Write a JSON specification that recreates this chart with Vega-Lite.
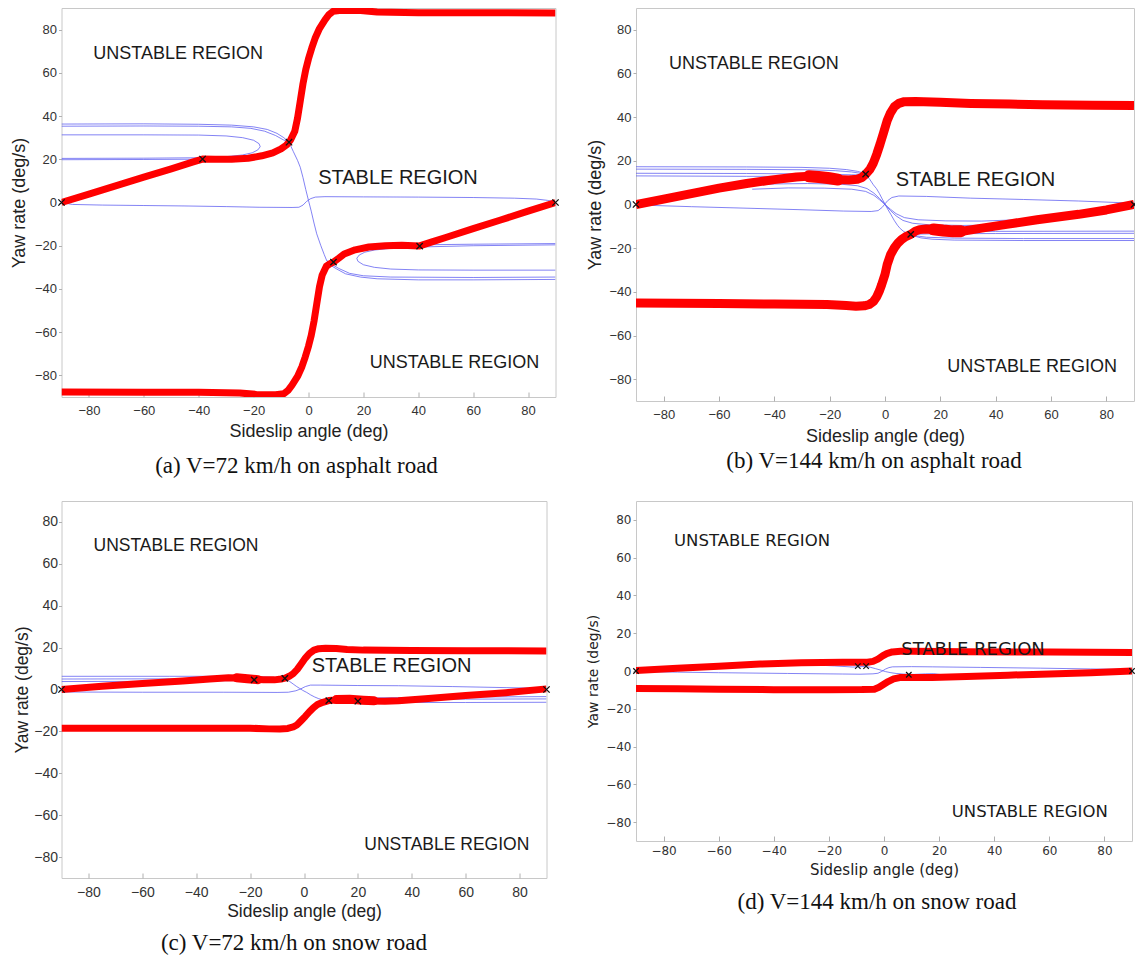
{
"$schema": "https://vega.github.io/schema/vega-lite/v6.json",
"padding": {"left": 9.5, "top": 7, "right": 0, "bottom": 0},
"background": "white",
"datasets": {
"lines": [
{"p":"a","k":"r","s":1,"x":-90,"y":0},{"p":"a","k":"r","s":1,"x":-80,"y":3.9},{"p":"a","k":"r","s":1,"x":-70,"y":7.8},{"p":"a","k":"r","s":1,"x":-60,"y":11.7},{"p":"a","k":"r","s":1,"x":-50,"y":15.6},{"p":"a","k":"r","s":1,"x":-42,"y":18.8},{"p":"a","k":"r","s":1,"x":-38.6,"y":20.1},{"p":"a","k":"r","s":1,"x":-34,"y":20},{"p":"a","k":"r","s":1,"x":-28,"y":20},{"p":"a","k":"r","s":1,"x":-22,"y":20.5},{"p":"a","k":"r","s":1,"x":-17,"y":21.6},{"p":"a","k":"r","s":1,"x":-13,"y":23},{"p":"a","k":"r","s":1,"x":-10,"y":24.8},{"p":"a","k":"r","s":1,"x":-8,"y":26.6},{"p":"a","k":"r","s":1,"x":-6.5,"y":29},{"p":"a","k":"r","s":1,"x":-5,"y":33},{"p":"a","k":"r","s":1,"x":-4,"y":39},{"p":"a","k":"r","s":1,"x":-3,"y":47},{"p":"a","k":"r","s":1,"x":-2,"y":55},{"p":"a","k":"r","s":1,"x":-1,"y":61.5},{"p":"a","k":"r","s":1,"x":0,"y":66.5},{"p":"a","k":"r","s":1,"x":1.2,"y":71.5},{"p":"a","k":"r","s":1,"x":2.4,"y":76},{"p":"a","k":"r","s":1,"x":4,"y":80.5},{"p":"a","k":"r","s":1,"x":6,"y":84.5},{"p":"a","k":"r","s":1,"x":7.5,"y":87},{"p":"a","k":"r","s":1,"x":9,"y":88.5},{"p":"a","k":"r","s":1,"x":12,"y":89},{"p":"a","k":"r","s":1,"x":19,"y":88.8},{"p":"a","k":"r","s":1,"x":25,"y":88.2},{"p":"a","k":"r","s":1,"x":40,"y":87.8},{"p":"a","k":"r","s":1,"x":60,"y":87.8},{"p":"a","k":"r","s":1,"x":90,"y":87.7},
{"p":"a","k":"r","s":2,"x":-90,"y":-87.7},{"p":"a","k":"r","s":2,"x":-60,"y":-87.8},{"p":"a","k":"r","s":2,"x":-40,"y":-87.8},{"p":"a","k":"r","s":2,"x":-25,"y":-88.2},{"p":"a","k":"r","s":2,"x":-19,"y":-88.8},{"p":"a","k":"r","s":2,"x":-12,"y":-89},{"p":"a","k":"r","s":2,"x":-9,"y":-88.5},{"p":"a","k":"r","s":2,"x":-7.5,"y":-87},{"p":"a","k":"r","s":2,"x":-6,"y":-84.5},{"p":"a","k":"r","s":2,"x":-4,"y":-80.5},{"p":"a","k":"r","s":2,"x":-2.4,"y":-76},{"p":"a","k":"r","s":2,"x":-1.2,"y":-71.5},{"p":"a","k":"r","s":2,"x":0,"y":-66.5},{"p":"a","k":"r","s":2,"x":1,"y":-61.5},{"p":"a","k":"r","s":2,"x":2,"y":-55},{"p":"a","k":"r","s":2,"x":3,"y":-47},{"p":"a","k":"r","s":2,"x":4,"y":-39},{"p":"a","k":"r","s":2,"x":5,"y":-33.5},{"p":"a","k":"r","s":2,"x":6.5,"y":-29.5},{"p":"a","k":"r","s":2,"x":8,"y":-28.2},{"p":"a","k":"r","s":2,"x":9.1,"y":-27.6},{"p":"a","k":"r","s":2,"x":11,"y":-25.8},{"p":"a","k":"r","s":2,"x":13,"y":-23.8},{"p":"a","k":"r","s":2,"x":17,"y":-21.9},{"p":"a","k":"r","s":2,"x":22,"y":-20.6},{"p":"a","k":"r","s":2,"x":28,"y":-20},{"p":"a","k":"r","s":2,"x":34,"y":-19.8},{"p":"a","k":"r","s":2,"x":40.5,"y":-20.1},{"p":"a","k":"r","s":2,"x":45,"y":-18.2},{"p":"a","k":"r","s":2,"x":50,"y":-16.2},{"p":"a","k":"r","s":2,"x":60,"y":-12.1},{"p":"a","k":"r","s":2,"x":70,"y":-8.1},{"p":"a","k":"r","s":2,"x":80,"y":-4},{"p":"a","k":"r","s":2,"x":90,"y":0},
{"p":"a","k":"b","s":1,"x":-90,"y":36.3},{"p":"a","k":"b","s":1,"x":-60,"y":36.4},{"p":"a","k":"b","s":1,"x":-40,"y":36.2},{"p":"a","k":"b","s":1,"x":-28,"y":35.8},{"p":"a","k":"b","s":1,"x":-20,"y":35},{"p":"a","k":"b","s":1,"x":-15,"y":33.8},{"p":"a","k":"b","s":1,"x":-11.5,"y":32},{"p":"a","k":"b","s":1,"x":-9,"y":30},{"p":"a","k":"b","s":1,"x":-7.1,"y":27.9},
{"p":"a","k":"b","s":2,"x":-90,"y":35.3},{"p":"a","k":"b","s":2,"x":-60,"y":35.4},{"p":"a","k":"b","s":2,"x":-40,"y":35.3},{"p":"a","k":"b","s":2,"x":-28,"y":35},{"p":"a","k":"b","s":2,"x":-21,"y":34.3},{"p":"a","k":"b","s":2,"x":-16,"y":33},{"p":"a","k":"b","s":2,"x":-12,"y":31},{"p":"a","k":"b","s":2,"x":-9.2,"y":29},{"p":"a","k":"b","s":2,"x":-7.1,"y":27.9},
{"p":"a","k":"b","s":3,"x":-7.1,"y":27.9},{"p":"a","k":"b","s":3,"x":-5.5,"y":23.5},{"p":"a","k":"b","s":3,"x":-4,"y":19.5},{"p":"a","k":"b","s":3,"x":-3,"y":16.3},{"p":"a","k":"b","s":3,"x":-2,"y":11.5},{"p":"a","k":"b","s":3,"x":-1,"y":6},{"p":"a","k":"b","s":3,"x":0,"y":0.9},{"p":"a","k":"b","s":3,"x":1,"y":-4},{"p":"a","k":"b","s":3,"x":2,"y":-9.5},{"p":"a","k":"b","s":3,"x":3,"y":-14.5},{"p":"a","k":"b","s":3,"x":4.5,"y":-20},{"p":"a","k":"b","s":3,"x":5.7,"y":-24},{"p":"a","k":"b","s":3,"x":6.6,"y":-26.8},
{"p":"a","k":"b","s":4,"x":6.6,"y":-26.8},{"p":"a","k":"b","s":4,"x":8,"y":-29},{"p":"a","k":"b","s":4,"x":10.3,"y":-30.8},{"p":"a","k":"b","s":4,"x":13.5,"y":-33},{"p":"a","k":"b","s":4,"x":18.9,"y":-34.5},{"p":"a","k":"b","s":4,"x":25,"y":-35.3},{"p":"a","k":"b","s":4,"x":40,"y":-35.8},{"p":"a","k":"b","s":4,"x":60,"y":-35.8},{"p":"a","k":"b","s":4,"x":90,"y":-35.6},
{"p":"a","k":"b","s":5,"x":6.6,"y":-26.8},{"p":"a","k":"b","s":5,"x":8.5,"y":-28.6},{"p":"a","k":"b","s":5,"x":11,"y":-30.5},{"p":"a","k":"b","s":5,"x":15,"y":-32.8},{"p":"a","k":"b","s":5,"x":20,"y":-33.9},{"p":"a","k":"b","s":5,"x":30,"y":-34.5},{"p":"a","k":"b","s":5,"x":60,"y":-34.7},{"p":"a","k":"b","s":5,"x":90,"y":-34.5},
{"p":"a","k":"b","s":6,"x":-90,"y":31.3},{"p":"a","k":"b","s":6,"x":-60,"y":31.3},{"p":"a","k":"b","s":6,"x":-40,"y":31.2},{"p":"a","k":"b","s":6,"x":-30,"y":30.8},{"p":"a","k":"b","s":6,"x":-24,"y":30},{"p":"a","k":"b","s":6,"x":-20,"y":28.8},{"p":"a","k":"b","s":6,"x":-18,"y":27.2},{"p":"a","k":"b","s":6,"x":-17.6,"y":25.8},{"p":"a","k":"b","s":6,"x":-18.5,"y":24.3},{"p":"a","k":"b","s":6,"x":-20.5,"y":23},{"p":"a","k":"b","s":6,"x":-24,"y":22},{"p":"a","k":"b","s":6,"x":-30,"y":21.2},{"p":"a","k":"b","s":6,"x":-40,"y":20.7},{"p":"a","k":"b","s":6,"x":-60,"y":20.5},{"p":"a","k":"b","s":6,"x":-90,"y":20.4},
{"p":"a","k":"b","s":7,"x":-90,"y":19.8},{"p":"a","k":"b","s":7,"x":-60,"y":19.9},{"p":"a","k":"b","s":7,"x":-45,"y":20},{"p":"a","k":"b","s":7,"x":-35,"y":20},{"p":"a","k":"b","s":7,"x":-27,"y":20.2},{"p":"a","k":"b","s":7,"x":-20,"y":20.8},{"p":"a","k":"b","s":7,"x":-15,"y":22},{"p":"a","k":"b","s":7,"x":-11,"y":24},{"p":"a","k":"b","s":7,"x":-8.5,"y":26.2},{"p":"a","k":"b","s":7,"x":-7.1,"y":27.9},
{"p":"a","k":"b","s":8,"x":90,"y":-31.3},{"p":"a","k":"b","s":8,"x":60,"y":-31.3},{"p":"a","k":"b","s":8,"x":40,"y":-31.2},{"p":"a","k":"b","s":8,"x":30,"y":-30.8},{"p":"a","k":"b","s":8,"x":24,"y":-30},{"p":"a","k":"b","s":8,"x":20,"y":-28.8},{"p":"a","k":"b","s":8,"x":18,"y":-27.2},{"p":"a","k":"b","s":8,"x":17.6,"y":-25.8},{"p":"a","k":"b","s":8,"x":18.5,"y":-24.3},{"p":"a","k":"b","s":8,"x":20.5,"y":-23},{"p":"a","k":"b","s":8,"x":24,"y":-22},{"p":"a","k":"b","s":8,"x":30,"y":-21.2},{"p":"a","k":"b","s":8,"x":40,"y":-20.6},{"p":"a","k":"b","s":8,"x":60,"y":-20},{"p":"a","k":"b","s":8,"x":90,"y":-19.6},
{"p":"a","k":"b","s":9,"x":9.1,"y":-27.6},{"p":"a","k":"b","s":9,"x":11,"y":-25.5},{"p":"a","k":"b","s":9,"x":13.5,"y":-23},{"p":"a","k":"b","s":9,"x":17,"y":-21.3},{"p":"a","k":"b","s":9,"x":22,"y":-20.4},{"p":"a","k":"b","s":9,"x":30,"y":-19.9},{"p":"a","k":"b","s":9,"x":40,"y":-19.6},{"p":"a","k":"b","s":9,"x":60,"y":-19.3},{"p":"a","k":"b","s":9,"x":90,"y":-19},
{"p":"a","k":"b","s":10,"x":-90,"y":0},{"p":"a","k":"b","s":10,"x":-86,"y":-0.9},{"p":"a","k":"b","s":10,"x":-75,"y":-1.2},{"p":"a","k":"b","s":10,"x":-60,"y":-1.4},{"p":"a","k":"b","s":10,"x":-45,"y":-1.6},{"p":"a","k":"b","s":10,"x":-30,"y":-1.9},{"p":"a","k":"b","s":10,"x":-18,"y":-2.2},{"p":"a","k":"b","s":10,"x":-6,"y":-2.3},{"p":"a","k":"b","s":10,"x":-3.5,"y":-2.2},{"p":"a","k":"b","s":10,"x":-2,"y":-1.2},{"p":"a","k":"b","s":10,"x":-0.7,"y":0.5},{"p":"a","k":"b","s":10,"x":0.8,"y":1.8},{"p":"a","k":"b","s":10,"x":2.5,"y":2.5},{"p":"a","k":"b","s":10,"x":6,"y":2.7},{"p":"a","k":"b","s":10,"x":20,"y":2.6},{"p":"a","k":"b","s":10,"x":40,"y":2.5},{"p":"a","k":"b","s":10,"x":60,"y":2.3},{"p":"a","k":"b","s":10,"x":75,"y":2},{"p":"a","k":"b","s":10,"x":83,"y":1.6},{"p":"a","k":"b","s":10,"x":87,"y":1},{"p":"a","k":"b","s":10,"x":90,"y":0.2},

{"p":"b","k":"r","s":1,"x":-90,"y":0},{"p":"b","k":"r","s":1,"x":-80,"y":2.5},{"p":"b","k":"r","s":1,"x":-70,"y":5},{"p":"b","k":"r","s":1,"x":-60,"y":7.5},{"p":"b","k":"r","s":1,"x":-50,"y":9.6},{"p":"b","k":"r","s":1,"x":-40,"y":11.4},{"p":"b","k":"r","s":1,"x":-32,"y":12.6},{"p":"b","k":"r","s":1,"x":-27,"y":13},{"p":"b","k":"r","s":1,"x":-22,"y":12.4},{"p":"b","k":"r","s":1,"x":-17,"y":11.5},{"p":"b","k":"r","s":1,"x":-13,"y":11.2},{"p":"b","k":"r","s":1,"x":-10,"y":11.6},{"p":"b","k":"r","s":1,"x":-8.3,"y":12.4},{"p":"b","k":"r","s":1,"x":-7,"y":13.9},{"p":"b","k":"r","s":1,"x":-5.5,"y":16},{"p":"b","k":"r","s":1,"x":-4.2,"y":19},{"p":"b","k":"r","s":1,"x":-3,"y":23},{"p":"b","k":"r","s":1,"x":-1.8,"y":27.6},{"p":"b","k":"r","s":1,"x":-0.5,"y":33},{"p":"b","k":"r","s":1,"x":0.8,"y":38.5},{"p":"b","k":"r","s":1,"x":2,"y":42},{"p":"b","k":"r","s":1,"x":3.4,"y":44.8},{"p":"b","k":"r","s":1,"x":5,"y":46.3},{"p":"b","k":"r","s":1,"x":7,"y":47.1},{"p":"b","k":"r","s":1,"x":11,"y":47.2},{"p":"b","k":"r","s":1,"x":20,"y":46.8},{"p":"b","k":"r","s":1,"x":31,"y":46.3},{"p":"b","k":"r","s":1,"x":45,"y":46},{"p":"b","k":"r","s":1,"x":57,"y":45.7},{"p":"b","k":"r","s":1,"x":75,"y":45.5},{"p":"b","k":"r","s":1,"x":90,"y":45.3},
{"p":"b","k":"r","s":2,"x":-90,"y":-45.1},{"p":"b","k":"r","s":2,"x":-60,"y":-45.4},{"p":"b","k":"r","s":2,"x":-40,"y":-45.6},{"p":"b","k":"r","s":2,"x":-21,"y":-45.8},{"p":"b","k":"r","s":2,"x":-14,"y":-46.3},{"p":"b","k":"r","s":2,"x":-10.5,"y":-46.6},{"p":"b","k":"r","s":2,"x":-7.5,"y":-46.4},{"p":"b","k":"r","s":2,"x":-5.7,"y":-45.8},{"p":"b","k":"r","s":2,"x":-4.2,"y":-44.5},{"p":"b","k":"r","s":2,"x":-3.1,"y":-42.5},{"p":"b","k":"r","s":2,"x":-2,"y":-39.5},{"p":"b","k":"r","s":2,"x":-1.2,"y":-36.7},{"p":"b","k":"r","s":2,"x":0,"y":-32},{"p":"b","k":"r","s":2,"x":0.8,"y":-27.5},{"p":"b","k":"r","s":2,"x":2,"y":-23},{"p":"b","k":"r","s":2,"x":3.4,"y":-19.8},{"p":"b","k":"r","s":2,"x":4.7,"y":-17.6},{"p":"b","k":"r","s":2,"x":6,"y":-16},{"p":"b","k":"r","s":2,"x":7.5,"y":-14.7},{"p":"b","k":"r","s":2,"x":9.3,"y":-13.7},{"p":"b","k":"r","s":2,"x":11,"y":-12.2},{"p":"b","k":"r","s":2,"x":12.5,"y":-11.5},{"p":"b","k":"r","s":2,"x":15,"y":-11.2},{"p":"b","k":"r","s":2,"x":18,"y":-11.3},{"p":"b","k":"r","s":2,"x":22,"y":-11.8},{"p":"b","k":"r","s":2,"x":26,"y":-12.2},{"p":"b","k":"r","s":2,"x":29,"y":-12},{"p":"b","k":"r","s":2,"x":35,"y":-10.8},{"p":"b","k":"r","s":2,"x":44,"y":-9.1},{"p":"b","k":"r","s":2,"x":55,"y":-7},{"p":"b","k":"r","s":2,"x":70,"y":-4.5},{"p":"b","k":"r","s":2,"x":80,"y":-2.5},{"p":"b","k":"r","s":2,"x":90,"y":0},
{"p":"b","k":"t","s":1,"x":-27.5,"y":12.9},{"p":"b","k":"t","s":1,"x":-24,"y":12.6},{"p":"b","k":"t","s":1,"x":-20,"y":12},{"p":"b","k":"t","s":1,"x":-17,"y":11.4},
{"p":"b","k":"t","s":2,"x":17.5,"y":-11.4},{"p":"b","k":"t","s":2,"x":21,"y":-11.9},{"p":"b","k":"t","s":2,"x":24.5,"y":-12.3},{"p":"b","k":"t","s":2,"x":27.5,"y":-12.2},
{"p":"b","k":"b","s":1,"x":-90,"y":17.3},{"p":"b","k":"b","s":1,"x":-50,"y":17.2},{"p":"b","k":"b","s":1,"x":-30,"y":17},{"p":"b","k":"b","s":1,"x":-20,"y":16.6},{"p":"b","k":"b","s":1,"x":-14,"y":16},{"p":"b","k":"b","s":1,"x":-10,"y":15.2},{"p":"b","k":"b","s":1,"x":-8,"y":14.5},{"p":"b","k":"b","s":1,"x":-7,"y":13.9},
{"p":"b","k":"b","s":2,"x":-90,"y":16.2},{"p":"b","k":"b","s":2,"x":-50,"y":16.1},{"p":"b","k":"b","s":2,"x":-28,"y":15.9},{"p":"b","k":"b","s":2,"x":-18,"y":15.5},{"p":"b","k":"b","s":2,"x":-12,"y":14.9},{"p":"b","k":"b","s":2,"x":-9,"y":14.3},{"p":"b","k":"b","s":2,"x":-7,"y":13.9},
{"p":"b","k":"b","s":3,"x":-90,"y":14.3},{"p":"b","k":"b","s":3,"x":-50,"y":14.2},{"p":"b","k":"b","s":3,"x":-30,"y":14},{"p":"b","k":"b","s":3,"x":-20,"y":13.8},{"p":"b","k":"b","s":3,"x":-12,"y":13.6},{"p":"b","k":"b","s":3,"x":-9,"y":13.6},{"p":"b","k":"b","s":3,"x":-7,"y":13.9},
{"p":"b","k":"b","s":4,"x":-90,"y":13.1},{"p":"b","k":"b","s":4,"x":-50,"y":12.9},{"p":"b","k":"b","s":4,"x":-35,"y":12.9},{"p":"b","k":"b","s":4,"x":-25,"y":12.7},{"p":"b","k":"b","s":4,"x":-15,"y":12.8},{"p":"b","k":"b","s":4,"x":-9.5,"y":13.2},{"p":"b","k":"b","s":4,"x":-7,"y":13.9},
{"p":"b","k":"b","s":5,"x":-7,"y":13.9},{"p":"b","k":"b","s":5,"x":-5.5,"y":11.5},{"p":"b","k":"b","s":5,"x":-4.2,"y":9},{"p":"b","k":"b","s":5,"x":-3.1,"y":7.3},{"p":"b","k":"b","s":5,"x":-2,"y":5},{"p":"b","k":"b","s":5,"x":-1,"y":2.5},{"p":"b","k":"b","s":5,"x":0,"y":0.2},{"p":"b","k":"b","s":5,"x":1,"y":-2.2},{"p":"b","k":"b","s":5,"x":2.1,"y":-4.5},{"p":"b","k":"b","s":5,"x":3.3,"y":-7.2},{"p":"b","k":"b","s":5,"x":4.5,"y":-9.5},{"p":"b","k":"b","s":5,"x":5.5,"y":-11},{"p":"b","k":"b","s":5,"x":6.8,"y":-12.4},{"p":"b","k":"b","s":5,"x":8,"y":-13.2},{"p":"b","k":"b","s":5,"x":9.3,"y":-13.7},
{"p":"b","k":"b","s":6,"x":9.3,"y":-13.7},{"p":"b","k":"b","s":6,"x":10.5,"y":-14.4},{"p":"b","k":"b","s":6,"x":13,"y":-15.3},{"p":"b","k":"b","s":6,"x":17,"y":-15.9},{"p":"b","k":"b","s":6,"x":25,"y":-16.3},{"p":"b","k":"b","s":6,"x":50,"y":-16.5},{"p":"b","k":"b","s":6,"x":90,"y":-16.5},
{"p":"b","k":"b","s":7,"x":9.3,"y":-13.7},{"p":"b","k":"b","s":7,"x":11,"y":-14.3},{"p":"b","k":"b","s":7,"x":15,"y":-15},{"p":"b","k":"b","s":7,"x":25,"y":-15.4},{"p":"b","k":"b","s":7,"x":50,"y":-15.6},{"p":"b","k":"b","s":7,"x":90,"y":-15.6},
{"p":"b","k":"b","s":8,"x":9.3,"y":-13.7},{"p":"b","k":"b","s":8,"x":11,"y":-13.6},{"p":"b","k":"b","s":8,"x":18,"y":-13.4},{"p":"b","k":"b","s":8,"x":40,"y":-13.3},{"p":"b","k":"b","s":8,"x":90,"y":-13.2},
{"p":"b","k":"b","s":9,"x":9.3,"y":-13.7},{"p":"b","k":"b","s":9,"x":12,"y":-12.9},{"p":"b","k":"b","s":9,"x":20,"y":-12.5},{"p":"b","k":"b","s":9,"x":40,"y":-12.3},{"p":"b","k":"b","s":9,"x":90,"y":-12.2},
{"p":"b","k":"b","s":10,"x":-52,"y":8.5},{"p":"b","k":"b","s":10,"x":-40,"y":9.4},{"p":"b","k":"b","s":10,"x":-28,"y":9.6},{"p":"b","k":"b","s":10,"x":-16,"y":9.3},{"p":"b","k":"b","s":10,"x":-10,"y":8.6},{"p":"b","k":"b","s":10,"x":-6.5,"y":7.3},{"p":"b","k":"b","s":10,"x":-4,"y":5.2},{"p":"b","k":"b","s":10,"x":-2,"y":2.8},{"p":"b","k":"b","s":10,"x":-0.8,"y":1.2},{"p":"b","k":"b","s":10,"x":0,"y":0},
{"p":"b","k":"b","s":11,"x":-48,"y":7},{"p":"b","k":"b","s":11,"x":-35,"y":7.6},{"p":"b","k":"b","s":11,"x":-22,"y":7.5},{"p":"b","k":"b","s":11,"x":-12,"y":7},{"p":"b","k":"b","s":11,"x":-7,"y":6},{"p":"b","k":"b","s":11,"x":-4,"y":4.2},{"p":"b","k":"b","s":11,"x":-2,"y":2.2},{"p":"b","k":"b","s":11,"x":0,"y":0},
{"p":"b","k":"b","s":12,"x":52,"y":-8.5},{"p":"b","k":"b","s":12,"x":40,"y":-9.4},{"p":"b","k":"b","s":12,"x":28,"y":-9.6},{"p":"b","k":"b","s":12,"x":16,"y":-9.3},{"p":"b","k":"b","s":12,"x":10,"y":-8.6},{"p":"b","k":"b","s":12,"x":6.5,"y":-7.3},{"p":"b","k":"b","s":12,"x":4,"y":-5.2},{"p":"b","k":"b","s":12,"x":2,"y":-2.8},{"p":"b","k":"b","s":12,"x":0.8,"y":-1.2},{"p":"b","k":"b","s":12,"x":0,"y":0},
{"p":"b","k":"b","s":13,"x":48,"y":-7},{"p":"b","k":"b","s":13,"x":35,"y":-7.6},{"p":"b","k":"b","s":13,"x":22,"y":-7.5},{"p":"b","k":"b","s":13,"x":12,"y":-7},{"p":"b","k":"b","s":13,"x":7,"y":-6},{"p":"b","k":"b","s":13,"x":4,"y":-4.2},{"p":"b","k":"b","s":13,"x":2,"y":-2.2},{"p":"b","k":"b","s":13,"x":0,"y":0},
{"p":"b","k":"b","s":14,"x":-90,"y":-0.2},{"p":"b","k":"b","s":14,"x":-70,"y":-1},{"p":"b","k":"b","s":14,"x":-47,"y":-1.8},{"p":"b","k":"b","s":14,"x":-30,"y":-2.4},{"p":"b","k":"b","s":14,"x":-15,"y":-3},{"p":"b","k":"b","s":14,"x":-5,"y":-3.2},{"p":"b","k":"b","s":14,"x":-2.5,"y":-2.8},{"p":"b","k":"b","s":14,"x":-1,"y":-1.3},{"p":"b","k":"b","s":14,"x":0,"y":0.3},{"p":"b","k":"b","s":14,"x":1,"y":1.8},{"p":"b","k":"b","s":14,"x":2.5,"y":3.2},{"p":"b","k":"b","s":14,"x":5,"y":3.9},{"p":"b","k":"b","s":14,"x":15,"y":3.7},{"p":"b","k":"b","s":14,"x":31,"y":2.9},{"p":"b","k":"b","s":14,"x":50,"y":2.3},{"p":"b","k":"b","s":14,"x":70,"y":1.6},{"p":"b","k":"b","s":14,"x":90,"y":0.6},

{"p":"c","k":"r","s":1,"x":-90,"y":0},{"p":"c","k":"r","s":1,"x":-75,"y":1.5},{"p":"c","k":"r","s":1,"x":-60,"y":2.9},{"p":"c","k":"r","s":1,"x":-45,"y":4.1},{"p":"c","k":"r","s":1,"x":-35,"y":5},{"p":"c","k":"r","s":1,"x":-28,"y":5.6},{"p":"c","k":"r","s":1,"x":-24,"y":5.5},{"p":"c","k":"r","s":1,"x":-20,"y":5},{"p":"c","k":"r","s":1,"x":-15,"y":4.6},{"p":"c","k":"r","s":1,"x":-11,"y":4.6},{"p":"c","k":"r","s":1,"x":-8.5,"y":5},{"p":"c","k":"r","s":1,"x":-7.1,"y":5.4},{"p":"c","k":"r","s":1,"x":-5.5,"y":6.3},{"p":"c","k":"r","s":1,"x":-4,"y":7.6},{"p":"c","k":"r","s":1,"x":-2.5,"y":9.6},{"p":"c","k":"r","s":1,"x":-1,"y":12.3},{"p":"c","k":"r","s":1,"x":0.5,"y":15},{"p":"c","k":"r","s":1,"x":2,"y":17.2},{"p":"c","k":"r","s":1,"x":3.7,"y":18.8},{"p":"c","k":"r","s":1,"x":5.5,"y":19.5},{"p":"c","k":"r","s":1,"x":8,"y":19.7},{"p":"c","k":"r","s":1,"x":12,"y":19.6},{"p":"c","k":"r","s":1,"x":16,"y":19.1},{"p":"c","k":"r","s":1,"x":22,"y":18.8},{"p":"c","k":"r","s":1,"x":40,"y":18.6},{"p":"c","k":"r","s":1,"x":60,"y":18.5},{"p":"c","k":"r","s":1,"x":90,"y":18.4},
{"p":"c","k":"r","s":2,"x":-90,"y":-18.5},{"p":"c","k":"r","s":2,"x":-60,"y":-18.5},{"p":"c","k":"r","s":2,"x":-40,"y":-18.5},{"p":"c","k":"r","s":2,"x":-20,"y":-18.5},{"p":"c","k":"r","s":2,"x":-13,"y":-18.8},{"p":"c","k":"r","s":2,"x":-9,"y":-18.9},{"p":"c","k":"r","s":2,"x":-6,"y":-18.6},{"p":"c","k":"r","s":2,"x":-4,"y":-17.9},{"p":"c","k":"r","s":2,"x":-2.5,"y":-16.8},{"p":"c","k":"r","s":2,"x":-1,"y":-14.8},{"p":"c","k":"r","s":2,"x":0.5,"y":-12.8},{"p":"c","k":"r","s":2,"x":2,"y":-10.6},{"p":"c","k":"r","s":2,"x":3.5,"y":-8.7},{"p":"c","k":"r","s":2,"x":5,"y":-7.2},{"p":"c","k":"r","s":2,"x":7,"y":-6.1},{"p":"c","k":"r","s":2,"x":9.2,"y":-5.3},{"p":"c","k":"r","s":2,"x":12,"y":-5},{"p":"c","k":"r","s":2,"x":16,"y":-5},{"p":"c","k":"r","s":2,"x":20,"y":-5.2},{"p":"c","k":"r","s":2,"x":24,"y":-5.5},{"p":"c","k":"r","s":2,"x":30,"y":-5.6},{"p":"c","k":"r","s":2,"x":35,"y":-5.4},{"p":"c","k":"r","s":2,"x":45,"y":-4.4},{"p":"c","k":"r","s":2,"x":60,"y":-2.9},{"p":"c","k":"r","s":2,"x":75,"y":-1.5},{"p":"c","k":"r","s":2,"x":90,"y":0.3},
{"p":"c","k":"t","s":1,"x":-25,"y":5.6},{"p":"c","k":"t","s":1,"x":-21,"y":5.1},{"p":"c","k":"t","s":1,"x":-17,"y":4.7},
{"p":"c","k":"t","s":2,"x":12,"y":-4.8},{"p":"c","k":"t","s":2,"x":17,"y":-4.7},{"p":"c","k":"t","s":2,"x":22,"y":-5.1},{"p":"c","k":"t","s":2,"x":26,"y":-5.4},
{"p":"c","k":"b","s":1,"x":-90,"y":6.3},{"p":"c","k":"b","s":1,"x":-50,"y":6.3},{"p":"c","k":"b","s":1,"x":-30,"y":6.3},{"p":"c","k":"b","s":1,"x":-18,"y":6.1},{"p":"c","k":"b","s":1,"x":-11,"y":5.8},{"p":"c","k":"b","s":1,"x":-8.5,"y":5.5},{"p":"c","k":"b","s":1,"x":-7.1,"y":5.3},
{"p":"c","k":"b","s":2,"x":-90,"y":5},{"p":"c","k":"b","s":2,"x":-50,"y":5.1},{"p":"c","k":"b","s":2,"x":-30,"y":5.2},{"p":"c","k":"b","s":2,"x":-15,"y":5.1},{"p":"c","k":"b","s":2,"x":-9,"y":5.2},{"p":"c","k":"b","s":2,"x":-7.1,"y":5.3},
{"p":"c","k":"b","s":3,"x":-90,"y":3.8},{"p":"c","k":"b","s":3,"x":-60,"y":3.9},{"p":"c","k":"b","s":3,"x":-35,"y":4.1},{"p":"c","k":"b","s":3,"x":-20,"y":4.4},{"p":"c","k":"b","s":3,"x":-11,"y":4.9},{"p":"c","k":"b","s":3,"x":-7.1,"y":5.3},
{"p":"c","k":"b","s":4,"x":-7.1,"y":5.3},{"p":"c","k":"b","s":4,"x":-5.5,"y":4},{"p":"c","k":"b","s":4,"x":-4,"y":2.6},{"p":"c","k":"b","s":4,"x":-2.7,"y":1.4},{"p":"c","k":"b","s":4,"x":-1.7,"y":0.6},{"p":"c","k":"b","s":4,"x":-0.5,"y":-0.4},{"p":"c","k":"b","s":4,"x":1,"y":-1.4},{"p":"c","k":"b","s":4,"x":2.5,"y":-2.6},{"p":"c","k":"b","s":4,"x":4,"y":-3.6},{"p":"c","k":"b","s":4,"x":5.5,"y":-4.4},{"p":"c","k":"b","s":4,"x":7.2,"y":-5},{"p":"c","k":"b","s":4,"x":9.2,"y":-5.3},
{"p":"c","k":"b","s":5,"x":9.2,"y":-5.3},{"p":"c","k":"b","s":5,"x":11,"y":-5.7},{"p":"c","k":"b","s":5,"x":16,"y":-6},{"p":"c","k":"b","s":5,"x":30,"y":-6.2},{"p":"c","k":"b","s":5,"x":60,"y":-6.2},{"p":"c","k":"b","s":5,"x":90,"y":-6.1},
{"p":"c","k":"b","s":6,"x":9.2,"y":-5.3},{"p":"c","k":"b","s":6,"x":12,"y":-5.1},{"p":"c","k":"b","s":6,"x":25,"y":-4.9},{"p":"c","k":"b","s":6,"x":60,"y":-4.6},{"p":"c","k":"b","s":6,"x":90,"y":-4.5},
{"p":"c","k":"b","s":7,"x":9.2,"y":-5.3},{"p":"c","k":"b","s":7,"x":12,"y":-4.6},{"p":"c","k":"b","s":7,"x":25,"y":-4},{"p":"c","k":"b","s":7,"x":60,"y":-3.6},{"p":"c","k":"b","s":7,"x":90,"y":-3.4},
{"p":"c","k":"b","s":8,"x":-90,"y":-1.2},{"p":"c","k":"b","s":8,"x":-60,"y":-1.3},{"p":"c","k":"b","s":8,"x":-30,"y":-1.3},{"p":"c","k":"b","s":8,"x":-10,"y":-1.4},{"p":"c","k":"b","s":8,"x":-5.8,"y":-1.3},{"p":"c","k":"b","s":8,"x":-3,"y":-0.6},{"p":"c","k":"b","s":8,"x":-1.2,"y":0.3},{"p":"c","k":"b","s":8,"x":0.5,"y":1.4},{"p":"c","k":"b","s":8,"x":2.4,"y":2.1},{"p":"c","k":"b","s":8,"x":6,"y":2.1},{"p":"c","k":"b","s":8,"x":20,"y":1.9},{"p":"c","k":"b","s":8,"x":35,"y":1.8},{"p":"c","k":"b","s":8,"x":55,"y":1.4},{"p":"c","k":"b","s":8,"x":75,"y":0.9},{"p":"c","k":"b","s":8,"x":90,"y":0.5},

{"p":"d","k":"r","s":1,"x":-90,"y":0.3},{"p":"d","k":"r","s":1,"x":-75,"y":1.4},{"p":"d","k":"r","s":1,"x":-60,"y":2.5},{"p":"d","k":"r","s":1,"x":-45,"y":3.7},{"p":"d","k":"r","s":1,"x":-30,"y":4.4},{"p":"d","k":"r","s":1,"x":-15,"y":4.6},{"p":"d","k":"r","s":1,"x":-6,"y":4.6},{"p":"d","k":"r","s":1,"x":-4,"y":5.1},{"p":"d","k":"r","s":1,"x":-2.2,"y":6.3},{"p":"d","k":"r","s":1,"x":-0.5,"y":8},{"p":"d","k":"r","s":1,"x":1,"y":9.2},{"p":"d","k":"r","s":1,"x":3,"y":10.1},{"p":"d","k":"r","s":1,"x":6,"y":10.4},{"p":"d","k":"r","s":1,"x":10,"y":10.4},{"p":"d","k":"r","s":1,"x":30,"y":10.2},{"p":"d","k":"r","s":1,"x":60,"y":10},{"p":"d","k":"r","s":1,"x":90,"y":9.8},
{"p":"d","k":"r","s":2,"x":-90,"y":-9.2},{"p":"d","k":"r","s":2,"x":-75,"y":-9.4},{"p":"d","k":"r","s":2,"x":-60,"y":-9.6},{"p":"d","k":"r","s":2,"x":-40,"y":-9.9},{"p":"d","k":"r","s":2,"x":-20,"y":-9.9},{"p":"d","k":"r","s":2,"x":-8,"y":-9.8},{"p":"d","k":"r","s":2,"x":-3.5,"y":-9.6},{"p":"d","k":"r","s":2,"x":-1.8,"y":-8.6},{"p":"d","k":"r","s":2,"x":-0.5,"y":-7.4},{"p":"d","k":"r","s":2,"x":1.5,"y":-5.6},{"p":"d","k":"r","s":2,"x":3.5,"y":-4.2},{"p":"d","k":"r","s":2,"x":5.7,"y":-3.5},{"p":"d","k":"r","s":2,"x":10,"y":-3.4},{"p":"d","k":"r","s":2,"x":17.5,"y":-3.4},{"p":"d","k":"r","s":2,"x":30,"y":-2.9},{"p":"d","k":"r","s":2,"x":45,"y":-2.2},{"p":"d","k":"r","s":2,"x":57,"y":-1.7},{"p":"d","k":"r","s":2,"x":75,"y":-0.9},{"p":"d","k":"r","s":2,"x":90,"y":0},
{"p":"d","k":"b","s":1,"x":-90,"y":-0.3},{"p":"d","k":"b","s":1,"x":-75,"y":-0.6},{"p":"d","k":"b","s":1,"x":-60,"y":-0.9},{"p":"d","k":"b","s":1,"x":-35,"y":-1.3},{"p":"d","k":"b","s":1,"x":-15,"y":-1.6},{"p":"d","k":"b","s":1,"x":-8.7,"y":-1.7},{"p":"d","k":"b","s":1,"x":-4,"y":-1.5},{"p":"d","k":"b","s":1,"x":-2.2,"y":-1.2},{"p":"d","k":"b","s":1,"x":-0.8,"y":-0.2},{"p":"d","k":"b","s":1,"x":0.5,"y":1},{"p":"d","k":"b","s":1,"x":1.8,"y":1.8},{"p":"d","k":"b","s":1,"x":3.1,"y":2.2},{"p":"d","k":"b","s":1,"x":10,"y":2.3},{"p":"d","k":"b","s":1,"x":17.5,"y":2.2},{"p":"d","k":"b","s":1,"x":35,"y":1.9},{"p":"d","k":"b","s":1,"x":56.7,"y":1.5},{"p":"d","k":"b","s":1,"x":75,"y":1.1},{"p":"d","k":"b","s":1,"x":90,"y":0.8},
{"p":"d","k":"b","s":2,"x":-24,"y":3.1},{"p":"d","k":"b","s":2,"x":-18,"y":2.7},{"p":"d","k":"b","s":2,"x":-11.3,"y":2.1},{"p":"d","k":"b","s":2,"x":-7,"y":2.4},{"p":"d","k":"b","s":2,"x":-5,"y":2},{"p":"d","k":"b","s":2,"x":-3,"y":1.2},{"p":"d","k":"b","s":2,"x":-1,"y":0.4},{"p":"d","k":"b","s":2,"x":0.5,"y":-0.3},{"p":"d","k":"b","s":2,"x":2.5,"y":-0.9},{"p":"d","k":"b","s":2,"x":4.4,"y":-1.3},{"p":"d","k":"b","s":2,"x":7,"y":-1.6},{"p":"d","k":"b","s":2,"x":10.9,"y":-1.8},{"p":"d","k":"b","s":2,"x":15,"y":-1.5},{"p":"d","k":"b","s":2,"x":18,"y":-1.4},{"p":"d","k":"b","s":2,"x":21,"y":-2},{"p":"d","k":"b","s":2,"x":24,"y":-2.6}
],
"marks": [
{"p":"a","x":-90,"y":0},{"p":"a","x":-38.6,"y":20.1},{"p":"a","x":-7.1,"y":27.9},{"p":"a","x":9.1,"y":-27.6},{"p":"a","x":40.5,"y":-20.2},{"p":"a","x":90,"y":0},
{"p":"b","x":-90,"y":0},{"p":"b","x":-7,"y":13.9},{"p":"b","x":9.3,"y":-13.7},{"p":"b","x":90,"y":0},
{"p":"c","x":-90,"y":0},{"p":"c","x":-18.5,"y":4.6},{"p":"c","x":-7.1,"y":5.3},{"p":"c","x":9.2,"y":-5.3},{"p":"c","x":20,"y":-5.6},{"p":"c","x":90,"y":0},
{"p":"d","x":-90,"y":0},{"p":"d","x":-9.5,"y":2.6},{"p":"d","x":-6.5,"y":2.6},{"p":"d","x":9,"y":-2},{"p":"d","x":90,"y":0}
],
"labels": [
{"p":"a","k":"u","t":"UNSTABLE REGION","x":-47.5,"y":68.8},{"p":"a","k":"u","t":"UNSTABLE REGION","x":53.2,"y":-74.3},{"p":"a","k":"s","t":"STABLE REGION","x":32.6,"y":11.2},
{"p":"b","k":"u","t":"UNSTABLE REGION","x":-47.4,"y":64.4},{"p":"b","k":"u","t":"UNSTABLE REGION","x":53.2,"y":-74.6},{"p":"b","k":"s","t":"STABLE REGION","x":32.7,"y":11.1},
{"p":"c","k":"u","t":"UNSTABLE REGION","x":-47.5,"y":68.4},{"p":"c","k":"u","t":"UNSTABLE REGION","x":53,"y":-74.4},{"p":"c","k":"s","t":"STABLE REGION","x":32.5,"y":11.2},
{"p":"d","k":"u","t":"UNSTABLE REGION","x":-47.9,"y":68.7},{"p":"d","k":"u","t":"UNSTABLE REGION","x":52.9,"y":-74.5},{"p":"d","k":"s","t":"STABLE REGION","x":32.3,"y":11}
]
},
"spacing": 21,
"vconcat": [
{"spacing": 22.5, "hconcat": [
{"width": 494, "height": 389,
 "title": {"text": "(a) V=72 km/h on asphalt road", "orient": "bottom", "anchor": "middle", "frame": "group", "dx": -12, "offset": 15, "font": "Liberation Serif", "fontSize": 23, "fontWeight": "normal", "color": "#111"},
 "encoding": {
  "x": {"field": "x", "type": "quantitative", "title": "Sideslip angle (deg)", "scale": {"domain": [-90, 90], "nice": false, "zero": false}, "axis": {"values": [-80,-60,-40,-20,0,20,40,60,80], "tickSize": -5, "labelPadding": 12, "labelFontSize": 13, "titleFontSize": 18, "titlePadding": 5}},
  "y": {"field": "y", "type": "quantitative", "title": "Yaw rate (deg/s)", "scale": {"domain": [-90, 90], "nice": false, "zero": false}, "axis": {"values": [-80,-60,-40,-20,0,20,40,60,80], "tickSize": 3, "labelPadding": 2, "labelFontSize": 13, "titleFontSize": 18, "titlePadding": 3, "minExtent": 30, "maxExtent": 30}}
 },
 "layer": [
  {"data": {"name": "lines"}, "transform": [{"filter": "datum.p=='a' && datum.k=='b'"}], "mark": {"type": "line", "clip": true, "color": "#5a5af0", "strokeWidth": 1, "opacity": 0.75}, "encoding": {"detail": {"field": "s"}, "order": {"value": null}}},
  {"data": {"name": "lines"}, "transform": [{"filter": "datum.p=='a' && datum.k=='r'"}], "mark": {"type": "line", "clip": true, "color": "#ff0000", "strokeWidth": 7, "strokeJoin": "round"}, "encoding": {"detail": {"field": "s"}, "order": {"value": null}}},
  {"data": {"name": "marks"}, "transform": [{"filter": "datum.p=='a'"}], "mark": {"type": "point", "shape": "M-1,-1L1,1M-1,1L1,-1", "size": 40, "color": "#111", "strokeWidth": 1.3, "filled": false, "opacity": 1}},
  {"data": {"name": "labels"}, "transform": [{"filter": "datum.p=='a' && datum.k=='u'"}], "mark": {"type": "text", "font": "Liberation Sans", "fontSize": 18, "color": "#1a1a1a", "align": "center", "baseline": "middle"}, "encoding": {"text": {"field": "t"}}},
  {"data": {"name": "labels"}, "transform": [{"filter": "datum.p=='a' && datum.k=='s'"}], "mark": {"type": "text", "font": "Liberation Sans", "fontSize": 20, "color": "#1a1a1a", "align": "center", "baseline": "middle"}, "encoding": {"text": {"field": "t"}}}
 ]
},
{"width": 498, "height": 393,
 "title": {"text": "(b) V=144 km/h on asphalt road", "orient": "bottom", "anchor": "middle", "frame": "group", "dx": -11, "offset": 5, "font": "Liberation Serif", "fontSize": 23, "fontWeight": "normal", "color": "#111"},
 "encoding": {
  "x": {"field": "x", "type": "quantitative", "title": "Sideslip angle (deg)", "scale": {"domain": [-90, 90], "nice": false, "zero": false}, "axis": {"values": [-80,-60,-40,-20,0,20,40,60,80], "tickSize": -5, "labelPadding": 12, "labelFontSize": 13, "titleFontSize": 18, "titlePadding": 6}},
  "y": {"field": "y", "type": "quantitative", "title": "Yaw rate (deg/s)", "scale": {"domain": [-90, 90], "nice": false, "zero": false}, "axis": {"values": [-80,-60,-40,-20,0,20,40,60,80], "tickSize": 3, "labelPadding": 2, "labelFontSize": 13, "titleFontSize": 18, "titlePadding": 2, "minExtent": 30, "maxExtent": 30}}
 },
 "layer": [
  {"data": {"name": "lines"}, "transform": [{"filter": "datum.p=='b' && datum.k=='b'"}], "mark": {"type": "line", "clip": true, "color": "#5a5af0", "strokeWidth": 1, "opacity": 0.75}, "encoding": {"detail": {"field": "s"}, "order": {"value": null}}},
  {"data": {"name": "lines"}, "transform": [{"filter": "datum.p=='b' && datum.k=='r'"}], "mark": {"type": "line", "clip": true, "color": "#ff0000", "strokeWidth": 9, "strokeJoin": "round"}, "encoding": {"detail": {"field": "s"}, "order": {"value": null}}},
  {"data": {"name": "lines"}, "transform": [{"filter": "datum.p=='b' && datum.k=='t'"}], "mark": {"type": "line", "clip": true, "color": "#ff0000", "strokeWidth": 12, "strokeCap": "round"}, "encoding": {"detail": {"field": "s"}, "order": {"value": null}}},
  {"data": {"name": "marks"}, "transform": [{"filter": "datum.p=='b'"}], "mark": {"type": "point", "shape": "M-1,-1L1,1M-1,1L1,-1", "size": 40, "color": "#111", "strokeWidth": 1.3, "filled": false, "opacity": 1}},
  {"data": {"name": "labels"}, "transform": [{"filter": "datum.p=='b' && datum.k=='u'"}], "mark": {"type": "text", "font": "Liberation Sans", "fontSize": 18, "color": "#1a1a1a", "align": "center", "baseline": "middle"}, "encoding": {"text": {"field": "t"}}},
  {"data": {"name": "labels"}, "transform": [{"filter": "datum.p=='b' && datum.k=='s'"}], "mark": {"type": "text", "font": "Liberation Sans", "fontSize": 20, "color": "#1a1a1a", "align": "center", "baseline": "middle"}, "encoding": {"text": {"field": "t"}}}
 ]
}
]},
{"spacing": 31.5, "hconcat": [
{"width": 485, "height": 377,
 "title": {"text": "(c) V=72 km/h on snow road", "orient": "bottom", "anchor": "middle", "frame": "group", "dx": -10, "offset": 12, "font": "Liberation Serif", "fontSize": 23, "fontWeight": "normal", "color": "#111"},
 "encoding": {
  "x": {"field": "x", "type": "quantitative", "title": "Sideslip angle (deg)", "scale": {"domain": [-90, 90], "nice": false, "zero": false}, "axis": {"values": [-80,-60,-40,-20,0,20,40,60,80], "tickSize": -5, "labelPadding": 12, "labelFontSize": 14, "titleFontSize": 17.5, "titlePadding": 3.5}},
  "y": {"field": "y", "type": "quantitative", "title": "Yaw rate (deg/s)", "scale": {"domain": [-90, 90], "nice": false, "zero": false}, "axis": {"values": [-80,-60,-40,-20,0,20,40,60,80], "tickSize": 3, "labelPadding": 1, "labelFontSize": 14, "titleFontSize": 17.5, "titlePadding": 0.5, "minExtent": 30, "maxExtent": 30}}
 },
 "layer": [
  {"data": {"name": "lines"}, "transform": [{"filter": "datum.p=='c' && datum.k=='b'"}], "mark": {"type": "line", "clip": true, "color": "#5a5af0", "strokeWidth": 1, "opacity": 0.75}, "encoding": {"detail": {"field": "s"}, "order": {"value": null}}},
  {"data": {"name": "lines"}, "transform": [{"filter": "datum.p=='c' && datum.k=='r'"}], "mark": {"type": "line", "clip": true, "color": "#ff0000", "strokeWidth": 7, "strokeJoin": "round"}, "encoding": {"detail": {"field": "s"}, "order": {"value": null}}},
  {"data": {"name": "lines"}, "transform": [{"filter": "datum.p=='c' && datum.k=='t'"}], "mark": {"type": "line", "clip": true, "color": "#ff0000", "strokeWidth": 9, "strokeCap": "round"}, "encoding": {"detail": {"field": "s"}, "order": {"value": null}}},
  {"data": {"name": "marks"}, "transform": [{"filter": "datum.p=='c'"}], "mark": {"type": "point", "shape": "M-1,-1L1,1M-1,1L1,-1", "size": 40, "color": "#111", "strokeWidth": 1.3, "filled": false, "opacity": 1}},
  {"data": {"name": "labels"}, "transform": [{"filter": "datum.p=='c' && datum.k=='u'"}], "mark": {"type": "text", "font": "Liberation Sans", "fontSize": 17.5, "color": "#1a1a1a", "align": "center", "baseline": "middle"}, "encoding": {"text": {"field": "t"}}},
  {"data": {"name": "labels"}, "transform": [{"filter": "datum.p=='c' && datum.k=='s'"}], "mark": {"type": "text", "font": "Liberation Sans", "fontSize": 20, "color": "#1a1a1a", "align": "center", "baseline": "middle"}, "encoding": {"text": {"field": "t"}}}
 ]
},
{"width": 496, "height": 340,
 "title": {"text": "(d) V=144 km/h on snow road", "orient": "bottom", "anchor": "middle", "frame": "group", "dx": -7, "offset": 13.5, "font": "Liberation Serif", "fontSize": 23, "fontWeight": "normal", "color": "#111"},
 "encoding": {
  "x": {"field": "x", "type": "quantitative", "title": "Sideslip angle (deg)", "scale": {"domain": [-90, 90], "nice": false, "zero": false}, "axis": {"values": [-80,-60,-40,-20,0,20,40,60,80], "tickSize": -5, "labelPadding": 9.5, "labelFont": "DejaVu Sans", "labelFontSize": 12, "titleFont": "DejaVu Sans", "titleFontSize": 15, "titlePadding": 6}},
  "y": {"field": "y", "type": "quantitative", "title": "Yaw rate (deg/s)", "scale": {"domain": [-90, 90], "nice": false, "zero": false}, "axis": {"values": [-80,-60,-40,-20,0,20,40,60,80], "tickSize": 3, "labelPadding": 2, "labelFont": "DejaVu Sans", "labelFontSize": 12, "titleFont": "DejaVu Sans", "titleFontSize": 14, "titlePadding": 6, "minExtent": 30, "maxExtent": 30}}
 },
 "layer": [
  {"data": {"name": "lines"}, "transform": [{"filter": "datum.p=='d' && datum.k=='b'"}], "mark": {"type": "line", "clip": true, "color": "#5a5af0", "strokeWidth": 1, "opacity": 0.75}, "encoding": {"detail": {"field": "s"}, "order": {"value": null}}},
  {"data": {"name": "lines"}, "transform": [{"filter": "datum.p=='d' && datum.k=='r'"}], "mark": {"type": "line", "clip": true, "color": "#ff0000", "strokeWidth": 7, "strokeJoin": "round"}, "encoding": {"detail": {"field": "s"}, "order": {"value": null}}},
  {"data": {"name": "marks"}, "transform": [{"filter": "datum.p=='d'"}], "mark": {"type": "point", "shape": "M-1,-1L1,1M-1,1L1,-1", "size": 30, "color": "#111", "strokeWidth": 1.2, "filled": false, "opacity": 1}},
  {"data": {"name": "labels"}, "transform": [{"filter": "datum.p=='d' && datum.k=='u'"}], "mark": {"type": "text", "font": "DejaVu Sans", "fontSize": 16.5, "color": "#1a1a1a", "align": "center", "baseline": "middle"}, "encoding": {"text": {"field": "t"}}},
  {"data": {"name": "labels"}, "transform": [{"filter": "datum.p=='d' && datum.k=='s'"}], "mark": {"type": "text", "font": "DejaVu Sans", "fontSize": 18, "color": "#1a1a1a", "align": "center", "baseline": "middle"}, "encoding": {"text": {"field": "t"}}}
 ]
}
]}
],
"config": {
 "view": {"stroke": "#c8c8c8", "strokeWidth": 1},
 "axis": {"domain": false, "grid": false, "tickColor": "#b0b0b0", "labelColor": "#333333", "titleColor": "#222222", "labelFont": "Liberation Sans", "titleFont": "Liberation Sans", "titleFontWeight": "normal", "labelFlush": false}
}
}
